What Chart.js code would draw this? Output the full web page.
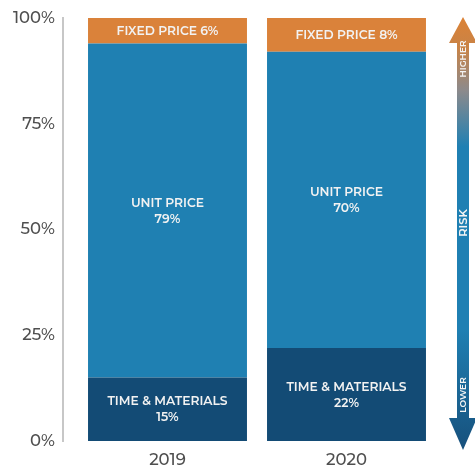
<!DOCTYPE html>
<html>
<head>
<meta charset="utf-8">
<script src="https://cdn.jsdelivr.net/npm/chart.js@4.4.0/dist/chart.umd.min.js"></script>
<style>
  html, body { margin: 0; padding: 0; background: #ffffff; }
  #wrap { width: 475px; height: 465px; position: relative; }
</style>
</head>
<body>
<div id="wrap"><canvas id="c" width="475" height="465"></canvas></div>
<script>
const categories = ['2019', '2020'];
const timeMaterials = [15, 22];
const unitPrice = [79, 70];
const fixedPrice = [6, 8];
const yTicks = [0, 25, 50, 75, 100];

const FONT = 'Montserrat, "DejaVu Sans", sans-serif';

const segmentLabels = {
  id: 'segmentLabels',
  afterDatasetsDraw(chart) {
    const ctx = chart.ctx;
    ctx.save();
    ctx.fillStyle = '#f2f2f2';
    ctx.textAlign = 'center';
    ctx.textBaseline = 'middle';
    ctx.font = '600 12.3px ' + FONT;
    chart.data.datasets.forEach((ds, di) => {
      const meta = chart.getDatasetMeta(di);
      meta.data.forEach((bar, i) => {
        const cy = (bar.y + bar.base) / 2;
        const v = ds.data[i];
        if (ds.inline) {
          ctx.fillText(ds.label + ' ' + v + '%', bar.x, cy + 0.5);
        } else {
          ctx.fillText(ds.label, bar.x, cy - 7.5);
          ctx.fillText(v + '%', bar.x, cy + 8.5);
        }
      });
    });
    ctx.restore();
  }
};

const axisLine = {
  id: 'axisLine',
  afterDraw(chart) {
    const ctx = chart.ctx;
    const y = chart.scales.y;
    const x0 = chart.chartArea.left - 15;
    ctx.save();
    ctx.strokeStyle = '#b5b5b5';
    ctx.lineWidth = 1.5;
    ctx.beginPath();
    ctx.moveTo(x0, y.getPixelForValue(100) - 1);
    ctx.lineTo(x0, y.getPixelForValue(0) + 1);
    ctx.stroke();
    ctx.restore();
  }
};

const riskArrow = {
  id: 'riskArrow',
  afterDraw(chart) {
    const ctx = chart.ctx;
    const y = chart.scales.y;
    const top = y.getPixelForValue(100) - 1;
    const bottom = y.getPixelForValue(0) + 9;
    const cx = 463;
    const headHalf = 14;
    const shaftHalf = 6;
    const headLen = 26;
    ctx.save();
    const g = ctx.createLinearGradient(0, top, 0, bottom);
    g.addColorStop(0, '#dc8236');
    g.addColorStop(0.07, '#c98346');
    g.addColorStop(0.17, '#8c8a8c');
    g.addColorStop(0.3, '#1f80b3');
    g.addColorStop(0.72, '#1f80b3');
    g.addColorStop(1, '#17507c');
    ctx.fillStyle = g;
    ctx.beginPath();
    ctx.moveTo(cx, top);
    ctx.lineTo(cx + headHalf, top + headLen);
    ctx.lineTo(cx + shaftHalf, top + headLen);
    ctx.lineTo(cx + shaftHalf, bottom - headLen - 6);
    ctx.lineTo(cx + headHalf, bottom - headLen - 6);
    ctx.lineTo(cx, bottom);
    ctx.lineTo(cx - headHalf, bottom - headLen - 6);
    ctx.lineTo(cx - shaftHalf, bottom - headLen - 6);
    ctx.lineTo(cx - shaftHalf, top + headLen);
    ctx.lineTo(cx - headHalf, top + headLen);
    ctx.closePath();
    ctx.fill();

    ctx.fillStyle = '#f4f4f4';
    ctx.textAlign = 'center';
    ctx.textBaseline = 'middle';
    const drawRot = (t, yy, f) => {
      ctx.save();
      ctx.translate(cx + 0.5, yy);
      ctx.rotate(-Math.PI / 2);
      ctx.font = f;
      ctx.fillText(t, 0, 0);
      ctx.restore();
    };
    drawRot('HIGHER', 59, '600 9px ' + FONT);
    drawRot('RISK', 223, '600 11.5px ' + FONT);
    drawRot('LOWER', 395, '600 9px ' + FONT);
    ctx.restore();
  }
};

new Chart(document.getElementById('c'), {
  type: 'bar',
  data: {
    labels: categories,
    datasets: [
      { label: 'TIME & MATERIALS', data: timeMaterials, backgroundColor: '#134b75' },
      { label: 'UNIT PRICE', data: unitPrice, backgroundColor: '#1f80b2' },
      { label: 'FIXED PRICE', data: fixedPrice, backgroundColor: '#da823a', inline: true }
    ]
  },
  options: {
    responsive: false,
    animation: false,
    devicePixelRatio: 1,
    layout: { padding: { top: 18, right: 39, bottom: 0, left: 0 } },
    datasets: { bar: { categoryPercentage: 1, barPercentage: 0.888, borderWidth: 0 } },
    plugins: { legend: { display: false }, tooltip: { enabled: false } },
    scales: {
      x: {
        stacked: true,
        grid: { display: false, drawTicks: false },
        border: { display: false },
        ticks: { color: '#4f4f4f', font: { family: FONT, size: 16.5, weight: '500' }, padding: 9 },
        afterFit(s) { s.height = 24; s.paddingLeft = 0; s.paddingRight = 0; }
      },
      y: {
        stacked: true,
        min: 0,
        max: 100,
        afterBuildTicks(s) { s.ticks = yTicks.map(v => ({ value: v })); },
        grid: { display: false, drawTicks: false },
        border: { display: false },
        ticks: {
          color: '#4f4f4f',
          font: { family: FONT, size: 16.5, weight: '500' },
          padding: 23,
          callback: v => v + '%'
        },
        afterFit(s) { s.width = 78; s.paddingTop = 0; s.paddingBottom = 0; }
      }
    }
  },
  plugins: [segmentLabels, axisLine, riskArrow]
});
</script>
</body>
</html>
